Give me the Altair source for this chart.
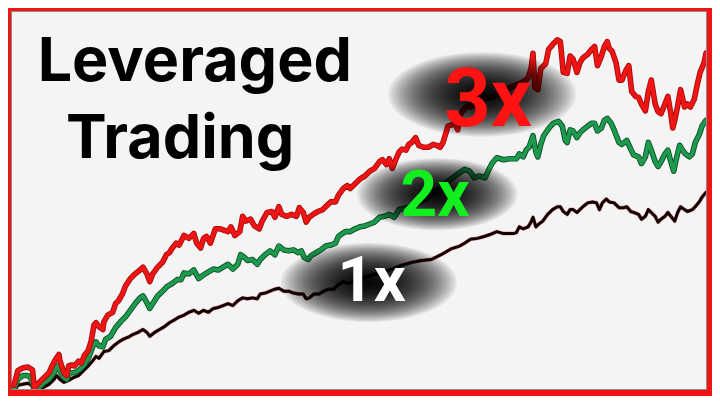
import altair as alt
import pandas as pd

# ---- series (t = horizontal position, y = vertical level, top = small) ----
red_t = [6,10,15,20,25,27,28,32,37,42,45,48,52,53,57,60,62,65,68,72,75,78,82,85,88,90,93,97,98,102,107,110,113,117,120,125,130,135,138,142,145,148,153,158,162,165,168,172,175,180,185,190,193,197,200,203,207,212,217,222,225,228,232,237,240,243,248,252,257,260,265,270,273,277,280,285,290,295,298,302,305,308,312,317,322,327,330,335,338,343,347,350,355,360,365,370,375,380,383,387,390,393,397,400,403,407,410,413,417,420,425,430,435,438,442,445,448,450,453,457,460,462,465,470,473,477,485,495,505,515,525,532,535,537,539,542,545,550,553,558,562,565,568,572,575,578,582,585,588,593,597,600,603,607,610,613,615,618,622,625,628,632,635,638,642,645,648,652,655,658,662,665,668,672,675,678,680,682,685,688,692,695,698,702,705,708,712,714]
red_y = [393,378,375,374,377,397,395,390,385,380,373,367,361,367,380,383,373,372,373,368,370,362,357,347,330,328,332,335,327,320,317,308,305,298,290,282,277,273,270,277,285,277,270,265,257,255,250,245,247,237,240,235,245,250,240,238,245,230,230,232,233,228,237,233,217,222,220,227,230,222,213,212,218,207,215,217,215,217,208,213,223,218,215,212,210,205,202,202,195,188,185,188,183,178,175,170,167,160,158,163,157,167,157,150,147,148,142,140,135,143,145,145,142,143,145,140,130,123,122,120,127,113,107,102,103,100,95,93,88,82,78,73,63,47,83,85,63,58,43,37,33,35,67,68,50,53,67,57,52,48,43,40,60,50,40,35,42,45,57,75,75,65,60,87,92,93,100,107,87,75,100,108,110,100,92,110,125,117,102,85,103,100,103,95,80,67,57,47]

green_t = [6,10,15,20,23,27,32,37,42,47,50,53,57,60,63,68,73,78,83,87,90,93,97,100,105,110,115,120,125,130,135,138,142,145,148,153,158,163,168,173,177,180,185,190,195,200,205,210,215,220,225,230,235,238,242,245,250,255,258,263,268,273,277,282,287,292,297,300,303,307,310,315,320,325,330,335,338,342,345,350,355,360,365,370,375,380,385,390,395,400,413,430,447,460,467,472,477,482,488,492,495,500,507,513,520,523,527,530,533,537,540,542,545,548,552,555,558,563,567,570,572,575,578,582,585,588,593,597,600,603,607,610,613,617,620,625,628,633,637,640,645,648,652,655,658,662,665,668,672,675,678,681,683,687,690,693,697,700,703,707,710,714]
green_y = [397,387,383,383,385,398,395,390,387,380,373,378,385,387,380,380,377,372,363,352,348,352,353,345,342,333,327,322,315,308,302,300,307,313,308,300,295,290,287,283,283,276,277,273,282,278,275,272,273,270,267,272,267,257,260,263,262,267,262,257,253,257,248,252,253,252,255,253,260,262,258,255,252,248,247,245,238,235,233,233,230,228,227,225,223,218,217,215,218,210,207,197,183,173,168,170,177,175,177,168,162,156,158,157,157,152,155,148,145,133,150,155,142,133,127,123,120,118,123,138,140,127,128,135,130,127,123,120,120,128,125,117,115,120,127,140,142,138,147,153,155,162,155,140,148,160,165,160,152,148,160,170,160,143,148,152,155,152,140,132,123,117]

black_t = [6,10,15,20,24,27,32,37,42,47,50,53,57,62,67,72,77,82,87,90,93,98,103,108,113,118,123,128,133,138,142,145,150,155,160,165,170,175,180,185,190,195,200,205,210,215,220,225,230,235,240,245,250,255,258,263,268,273,277,282,287,292,297,302,305,308,313,318,323,328,333,338,343,348,360,373,390,403,413,423,433,443,453,462,467,473,480,487,493,500,507,517,520,523,527,532,535,537,540,543,547,552,557,562,565,568,572,575,578,582,585,588,593,598,602,605,608,612,615,620,625,630,633,637,640,645,648,652,655,658,662,665,668,672,675,678,682,685,688,692,695,700,703,707,710,714]
black_y = [400,393,392,391,393,400,398,395,392,387,383,387,390,388,385,383,378,373,367,363,365,358,357,352,348,345,343,340,338,335,338,342,338,335,332,328,325,322,320,317,315,318,315,317,313,312,310,308,310,305,302,303,302,303,298,297,295,293,292,295,295,297,298,298,303,302,298,298,295,293,293,288,285,287,282,278,273,268,265,263,262,257,251,248,245,241,240,238,236,233,235,235,234,228,230,228,223,218,228,225,222,215,210,207,207,212,215,210,210,213,210,207,203,202,203,210,203,199,202,203,208,208,207,212,213,215,220,217,210,213,217,223,220,217,213,217,222,213,207,210,212,210,207,202,197,192]

# ---- annotations ----
labels = ["3x", "2x", "1x"]
label_t = [491, 437, 372]
label_y = [123, 217, 305]
label_color = ["#ff1212", "#12ee1e", "#ffffff"]
label_size = [81, 64, 63]

shadow_t = [485, 439, 369]
shadow_y = [90, 194, 286]
shadow_half = [96, 82, 90]

title_lines = ["Leveraged", "Trading"]
title_t = [191, 176]
title_y = [76, 156]

W, H = 695, 378
xs = alt.Scale(domain=[3, 714], nice=False, zero=False)
ys = alt.Scale(domain=[3, 397], nice=False, zero=False, reverse=True)
X = lambda f: alt.X(f, type="quantitative", scale=xs, axis=None)
Y = lambda f: alt.Y(f, type="quantitative", scale=ys, axis=None)


def line_layers(t, y, outer, inner, wo, wi):
    df = pd.DataFrame({"t": t, "y": y})
    base = alt.Chart(df)
    o = base.mark_line(color=outer, strokeWidth=wo, clip=True, strokeJoin="round", strokeCap="round").encode(x=X("t"), y=Y("y"))
    i = base.mark_line(color=inner, strokeWidth=wi, clip=True, strokeJoin="round", strokeCap="round").encode(x=X("t"), y=Y("y"))
    return [o, i]


layers = []
layers += line_layers(black_t, black_y, "#ee9a9a", "#0e0101", 4.0, 3.0)
layers += line_layers(green_t, green_y, "#0c5028", "#1e9a4e", 5.6, 3.8)
layers += line_layers(red_t, red_y, "#a80b0b", "#f01515", 5.6, 3.8)

# soft shadows: stacked translucent ellipses
N = 44
sx = W / 711.0
rows = []
for cx, cy, hw in zip(shadow_t, shadow_y, shadow_half):
    for k in range(1, N + 1):
        rows.append({"t": cx, "y": cy, "size": (2 * hw * sx * (k / N) ** 1.35) ** 2})
shadow_df = pd.DataFrame(rows)
ELLIPSE = "M -1 0 A 1 0.45 0 1 0 1 0 A 1 0.45 0 1 0 -1 0 Z"
shadows = alt.Chart(shadow_df).mark_point(
    shape=ELLIPSE, filled=True, color="black", opacity=0.07, strokeWidth=0
).encode(x=X("t"), y=Y("y"), size=alt.Size("size:Q", scale=None, legend=None))
layers.append(shadows)

lab_df = pd.DataFrame({"t": label_t, "y": label_y, "text": labels, "c": label_color})
for i in range(3):
    layers.append(
        alt.Chart(lab_df.iloc[[i]]).mark_text(
            font="Roboto", fontWeight="bold", fontSize=label_size[i], align="center", baseline="alphabetic"
        ).encode(x=X("t"), y=Y("y"), text="text:N", color=alt.Color("c:N", scale=None, legend=None))
    )

title_df = pd.DataFrame({"t": title_t, "y": title_y, "text": title_lines})
layers.append(
    alt.Chart(title_df).mark_text(
        font="Inter", fontWeight="bold", fontSize=61, align="center", baseline="alphabetic", color="black"
    ).encode(x=X("t"), y=Y("y"), text="text:N")
)

chart = alt.layer(*layers).properties(
    width=W, height=H,
    padding={"left": 3, "top": 3, "right": 6, "bottom": 7},
    background="#f01414",
    autosize=alt.AutoSizeParams(type="none"),
).configure_view(fill="#f4f4f4", stroke="#8c8c8c", strokeWidth=1)

chart.save("out.html", embed_options={"renderer": "svg", "actions": False})
